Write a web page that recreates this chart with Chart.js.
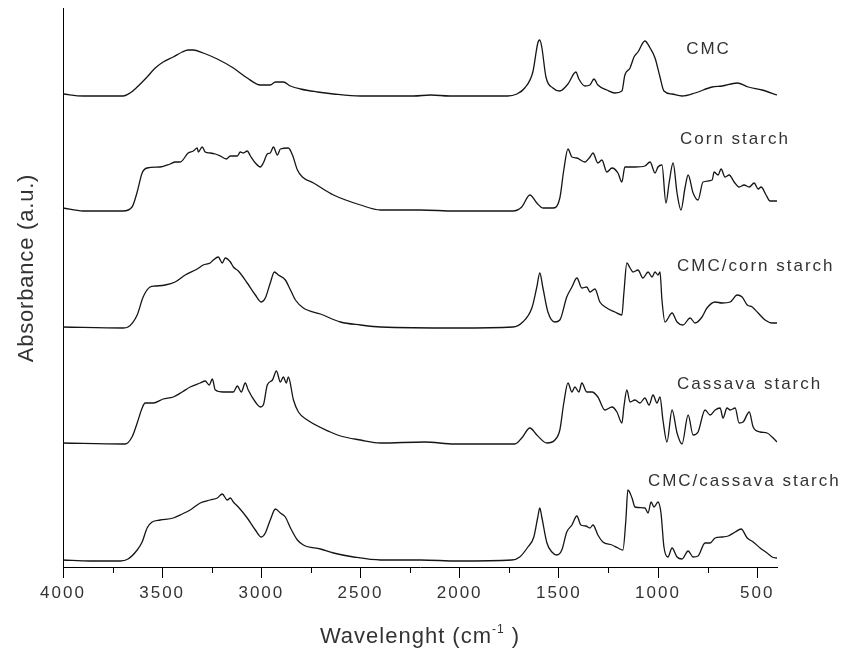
<!DOCTYPE html>
<html>
<head>
<meta charset="utf-8">
<script src="https://cdn.jsdelivr.net/npm/chart.js@4.4.1/dist/chart.umd.min.js"></script>
<style>
html,body{margin:0;padding:0;background:#fff;}
#c{display:block;}
</style>
</head>
<body>
<canvas id="c" width="854" height="652"></canvas>
<script>
// ---- data (wavenumber, relative absorbance) ----
const seriesNames = ['CMC', 'Corn starch', 'CMC/corn starch', 'Cassava starch', 'CMC/cassava starch'];
const offsets = [472, 357, 240, 124, 7];
const xTicks = [4000, 3500, 3000, 2500, 2000, 1500, 1000, 500];
const xMinorTicks = [3750, 3250, 2750, 2250, 1750, 1250, 750];

const cmcWn = [4000,3899,3697,3662,3626,3576,3535,3495,3444,3399,3369,3343,3293,3222,3141,3071,3005,2955,2929,2889,2853,2803,2717,2636,2500,2232,2146,2051,1758,1712,1672,1631,1606,1596,1586,1565,1530,1495,1454,1414,1399,1369,1343,1323,1303,1258,1217,1182,1167,1141,1121,1101,1066,1040,1015,990,970,929,879,813,727,677,601,545,475,400];
const cmcAbs = [1,-1,-1,2,8,18,27,33,38,43,45,45,42,36,27,17,10,10,13,13,9,6,3,1,-1,-1,0,-1,-1,1,7,23,52,55,48,18,7,4,11,23,16,9,10,16,10,5,2,4,20,27,38,43,54,47,37,18,4,1,-1,2,8,9,12,8,5,0];

const cornWn = [4000,3899,3697,3652,3626,3601,3576,3510,3460,3434,3409,3369,3343,3323,3318,3298,3283,3258,3232,3207,3177,3156,3121,3106,3091,3071,3055,3030,3005,2990,2970,2955,2939,2919,2904,2864,2843,2818,2793,2737,2636,2500,2399,2197,2025,1732,1687,1646,1611,1581,1530,1495,1475,1454,1434,1409,1369,1343,1328,1303,1283,1258,1232,1202,1182,1167,1116,1066,1040,1015,1000,980,960,944,924,904,884,864,848,823,798,773,727,717,697,682,662,641,616,591,566,540,515,495,480,455,435,400];
const cornAbs = [2,-1,-1,3,18,37,42,43,46,48,48,57,59,62,58,63,58,57,56,54,51,54,54,58,57,59,54,47,43,47,56,57,63,55,61,62,55,40,33,27,15,5,0,0,-1,-1,3,15,7,2,2,12,40,61,53,52,48,53,57,47,50,38,42,37,28,43,43,44,48,37,43,45,7,27,47,17,0,22,35,17,10,28,30,38,35,41,33,35,28,23,25,23,27,21,23,15,9,9];

const cmcCornWn = [4000,3697,3672,3626,3596,3561,3535,3485,3435,3384,3323,3293,3258,3242,3217,3197,3182,3156,3141,3116,3071,3030,3000,2980,2955,2934,2914,2879,2853,2828,2788,2702,2601,2500,2399,2010,1732,1682,1636,1611,1596,1581,1555,1520,1495,1460,1434,1409,1384,1359,1343,1318,1293,1258,1217,1182,1172,1157,1141,1126,1101,1076,1050,1030,1015,1000,990,980,965,929,904,874,838,813,778,753,712,677,636,601,576,550,525,495,460,425,400];
const cmcCornAbs = [0,-1,0,12,30,40,41,42,45,52,58,62,64,67,70,64,69,65,60,56,44,32,25,29,44,55,52,47,37,27,19,13,5,2,0,-1,0,5,19,40,54,40,15,5,7,30,40,49,39,40,35,38,25,19,15,12,34,64,59,55,57,49,55,50,55,52,55,27,5,14,5,2,9,4,10,19,25,24,25,32,30,22,20,14,7,4,4];

const cassavaWn = [4000,3697,3687,3652,3626,3601,3586,3545,3495,3444,3399,3359,3308,3283,3263,3247,3232,3192,3141,3121,3101,3081,3066,3030,3005,2990,2970,2944,2924,2904,2889,2874,2864,2838,2813,2768,2652,2601,2500,2399,2177,2025,1722,1687,1646,1611,1560,1520,1495,1475,1454,1434,1419,1399,1384,1359,1333,1303,1268,1232,1207,1182,1172,1157,1141,1116,1091,1066,1045,1025,1005,990,975,955,929,904,879,848,823,798,763,737,712,687,672,652,636,611,591,571,540,520,485,450,425,400];
const cassavaAbs = [0,-1,-1,6,20,35,40,40,44,46,51,56,60,62,58,64,53,51,51,57,51,60,53,41,36,38,58,63,72,61,66,60,66,43,31,23,11,7,3,0,1,-1,-1,5,15,8,0,3,13,40,60,51,56,51,60,51,51,46,33,36,31,20,36,53,41,43,40,45,38,48,40,46,23,1,33,10,-1,28,8,11,33,28,33,35,25,35,33,35,20,21,31,16,11,10,6,1];

const cmcCassavaWn = [4000,3864,3712,3672,3626,3601,3576,3551,3510,3444,3399,3359,3308,3258,3222,3197,3172,3156,3141,3116,3071,3030,3000,2980,2955,2929,2904,2879,2853,2818,2788,2702,2636,2535,2399,2197,2010,1737,1697,1656,1626,1606,1596,1586,1560,1535,1510,1485,1460,1434,1409,1389,1364,1343,1328,1303,1278,1232,1202,1177,1162,1152,1131,1116,1066,1050,1035,1020,1000,985,970,950,929,904,879,848,823,798,763,737,712,677,646,611,581,550,520,485,450,425,400];
const cmcCassavaAbs = [0,-1,-1,1,10,18,32,38,40,42,46,50,57,60,62,66,60,62,58,53,42,30,23,27,40,51,47,43,32,20,15,11,7,3,0,0,-1,0,3,13,23,43,52,43,17,8,5,10,28,35,44,35,34,32,35,25,18,15,12,10,40,70,62,53,52,47,58,53,58,47,13,3,12,3,1,9,3,4,17,17,22,23,24,28,31,22,18,12,7,3,2];

// label anchors in data units (wavenumber of text start, absorbance of text middle)
const labelWn = [858, 889, 904, 904, 1051];
const labelY = [518, 428, 301, 183, 86];

const allWn = [cmcWn, cornWn, cmcCornWn, cassavaWn, cmcCassavaWn];
const allAbs = [cmcAbs, cornAbs, cmcCornAbs, cassavaAbs, cmcCassavaAbs];

const datasets = seriesNames.map((name, k) => ({
  label: name,
  data: allWn[k].map((w, i) => ({x: w, y: allAbs[k][i] + offsets[k]})),
  borderColor: '#151515',
  borderWidth: 1.3,
  pointRadius: 0,
  fill: false,
  cubicInterpolationMode: 'monotone'
}));

const textColor = '#333333';

const decorPlugin = {
  id: 'decor',
  beforeDraw(chart) {
    chart.ctx.letterSpacing = '2px';
  },
  afterDraw(chart) {
    const ctx = chart.ctx;
    const xs = chart.scales.x, ys = chart.scales.y;
    const area = chart.chartArea;
    ctx.save();
    // minor ticks
    ctx.strokeStyle = '#000';
    ctx.lineWidth = 1;
    xMinorTicks.forEach(v => {
      const px = Math.round(xs.getPixelForValue(v)) + 0.5;
      ctx.beginPath();
      ctx.moveTo(px, area.bottom);
      ctx.lineTo(px, area.bottom + 6);
      ctx.stroke();
    });
    // series labels
    ctx.fillStyle = textColor;
    ctx.letterSpacing = '2px';
    ctx.font = '17px "Liberation Sans", Arial, sans-serif';
    ctx.textAlign = 'left';
    ctx.textBaseline = 'middle';
    seriesNames.forEach((n, k) => {
      ctx.fillText(n, xs.getPixelForValue(labelWn[k]), ys.getPixelForValue(labelY[k]));
    });
    // x title
    ctx.letterSpacing = '1px';
    ctx.textBaseline = 'alphabetic';
    const big = '22px "Liberation Sans", Arial, sans-serif';
    const small = '12px "Liberation Sans", Arial, sans-serif';
    const p1 = 'Wavelenght (cm', p2 = '-1', p3 = ' )';
    ctx.font = big; const w1 = ctx.measureText(p1).width; const w3 = ctx.measureText(p3).width;
    ctx.font = small; const w2 = ctx.measureText(p2).width;
    const total = w1 + w2 + w3;
    const cx = (area.left + area.right) / 2;
    let x0 = cx - total / 2;
    const base = 643;
    ctx.font = big; ctx.fillText(p1, x0, base);
    ctx.font = small; ctx.fillText(p2, x0 + w1, base - 10);
    ctx.font = big; ctx.fillText(p3, x0 + w1 + w2, base);
    // y title
    ctx.save();
    ctx.translate(27, 268);
    ctx.rotate(-Math.PI / 2);
    ctx.font = big;
    ctx.letterSpacing = '0.8px';
    ctx.textAlign = 'center';
    ctx.textBaseline = 'middle';
    ctx.fillText('Absorbance (a.u.)', 0, 0);
    ctx.restore();
    ctx.restore();
    ctx.letterSpacing = '0px';
  }
};

new Chart(document.getElementById('c'), {
  type: 'line',
  data: { datasets },
  plugins: [decorPlugin],
  options: {
    responsive: false,
    animation: false,
    devicePixelRatio: 1,
    layout: { padding: { top: 8, right: 77, left: 0, bottom: 0 } },
    plugins: { legend: { display: false }, tooltip: { enabled: false } },
    elements: { line: { tension: 0 } },
    scales: {
      x: {
        type: 'linear',
        reverse: true,
        min: 400,
        max: 4000,
        afterBuildTicks: (s) => { s.ticks = xTicks.map(v => ({ value: v })); },
        afterFit: (s) => { s.height = 85; },
        ticks: {
          color: textColor,
          font: { size: 17, family: '"Liberation Sans", Arial, sans-serif' },
          padding: 5,
          maxRotation: 0,
          autoSkip: false,
          callback: (v) => String(v)
        },
        grid: { display: true, drawOnChartArea: false, drawTicks: true, tickLength: 11, tickColor: '#000', tickWidth: 1 },
        border: { display: true, color: '#000', width: 1 }
      },
      y: {
        type: 'linear',
        min: 0,
        max: 559,
        afterFit: (s) => { s.width = 63; },
        ticks: { display: false },
        grid: { display: false },
        border: { display: true, color: '#000', width: 1 }
      }
    }
  }
});
</script>
</body>
</html>
